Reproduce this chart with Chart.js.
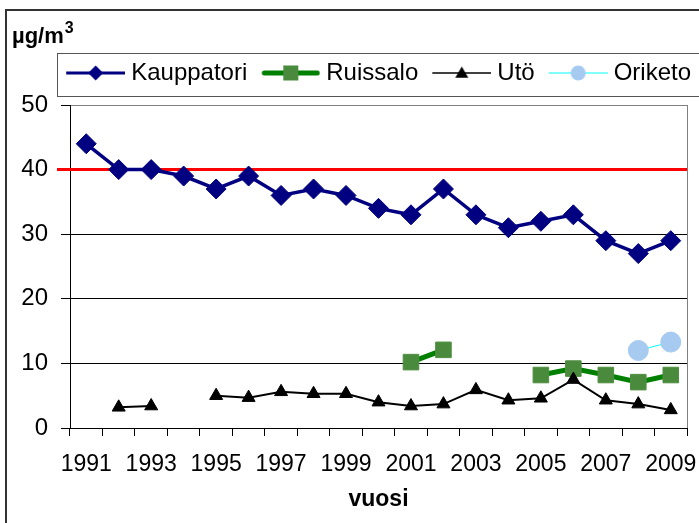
<!DOCTYPE html>
<html>
<head>
<meta charset="utf-8">
<script src="https://cdn.jsdelivr.net/npm/chart.js@4.4.1/dist/chart.umd.min.js"></script>
<style>
  html, body { margin: 0; padding: 0; background: #fff; }
  #wrap { width: 699px; height: 523px; }
</style>
</head>
<body>
<div id="wrap"><canvas id="chart" width="699" height="523"></canvas></div>
<script>
// data
const years = ['1991', '1992', '1993', '1994', '1995', '1996', '1997', '1998', '1999', '2000',
               '2001', '2002', '2003', '2004', '2005', '2006', '2007', '2008', '2009'];
const kauppatori = [44, 40, 40, 39, 37, 39, 36, 37, 36, 34, 33, 37, 33, 31, 32, 33, 29, 27, 29];
const ruissalo = [null, null, null, null, null, null, null, null, null, null,
                  10.2, 12.1, null, null, 8.2, 9.2, 8.2, 7.1, 8.2];
const uto = [null, 3.2, 3.4, null, 5.0, 4.7, 5.6, 5.3, 5.3, 4.0, 3.4, 3.7, 5.9, 4.3, 4.6, 7.5, 4.3, 3.7, 2.8];
const oriketo = [null, null, null, null, null, null, null, null, null, null,
                 null, null, null, null, null, null, null, 12.0, 13.3];
const seriesNames = ['Kauppatori', 'Ruissalo', 'Utö', 'Oriketo'];
const limitValue = 40;   // raja-arvo
const yMin = 0, yMax = 50, yStep = 10;
const unitText = 'µg/m';
const unitSup = '3';
const xTitle = 'vuosi';

const FONT = "'Liberation Sans', Arial, sans-serif";
const LEGEND_BOX = 59;   // legend box width (sample sits over it)
const LEGEND_PAD = 8;

// small marker helpers for the legend samples
function diamond(ctx, x, y, r) {
    ctx.beginPath();
    ctx.moveTo(x, y - r); ctx.lineTo(x + r, y); ctx.lineTo(x, y + r); ctx.lineTo(x - r, y);
    ctx.closePath(); ctx.fill();
}
function square(ctx, x, y, h) {
    ctx.fillRect(x - h, y - h, 2 * h, 2 * h);
}
function triangle(ctx, x, y, r) {
    ctx.beginPath();
    ctx.moveTo(x, y - r);
    ctx.lineTo(x + r * 0.866, y + r * 0.5);
    ctx.lineTo(x - r * 0.866, y + r * 0.5);
    ctx.closePath(); ctx.fill();
}
function circle(ctx, x, y, r) {
    ctx.beginPath(); ctx.arc(x, y, r, 0, Math.PI * 2); ctx.fill();
}

// line + marker sample, 59px long, ending 6px before the legend text
function legendSample(lineColor, lineWidth, cap, markerColor, marker) {
    const c = document.createElement('canvas');
    c.width = LEGEND_BOX + 12; c.height = 28;
    const x0 = c.width - 59, x1 = c.width;
    const ctx = c.getContext('2d');
    ctx.strokeStyle = lineColor;
    ctx.lineWidth = lineWidth;
    ctx.lineCap = cap;
    ctx.beginPath();
    ctx.moveTo(cap === 'round' ? x0 + 3 : x0, 14);
    ctx.lineTo(cap === 'round' ? x1 - 3 : x1, 14);
    ctx.stroke();
    ctx.fillStyle = markerColor;
    marker(ctx, (x0 + x1) / 2, 14);
    return c;
}

const samples = [
    legendSample('#000080', 3, 'butt', '#000080', (ctx, x, y) => diamond(ctx, x, y, 7.5)),
    legendSample('#008000', 5, 'round', '#4a8a3c', (ctx, x, y) => square(ctx, x, y, 7.5)),
    legendSample('#000000', 1.5, 'butt', '#000000', (ctx, x, y) => triangle(ctx, x, y + 1, 7.5)),
    legendSample('#00ffff', 1, 'butt', '#a6caf0', (ctx, x, y) => circle(ctx, x, y, 7.5))
];

// frame, unit label, legend border, plot border and the limit line
const decorations = {
    id: 'decorations',
    beforeDatasetsDraw(chart) {
        const ctx = chart.ctx;
        const area = chart.chartArea;
        const y = chart.scales.y.getPixelForValue(limitValue);
        ctx.save();
        // right side of plot area
        ctx.strokeStyle = '#808080';
        ctx.lineWidth = 1;
        ctx.beginPath();
        ctx.moveTo(Math.round(area.right) + 0.5, area.top);
        ctx.lineTo(Math.round(area.right) + 0.5, area.bottom);
        ctx.stroke();
        // limit line
        ctx.strokeStyle = '#ff0000';
        ctx.lineWidth = 3;
        ctx.beginPath();
        ctx.moveTo(area.left - 13, y);
        ctx.lineTo(area.right, y);
        ctx.stroke();
        ctx.restore();
    },
    afterDraw(chart) {
        const ctx = chart.ctx;
        ctx.save();
        // outer chart border (only top and left are inside the picture)
        ctx.strokeStyle = '#333333';
        ctx.lineWidth = 2;
        ctx.beginPath();
        ctx.moveTo(6, chart.height + 5);
        ctx.lineTo(6, 10);
        ctx.lineTo(chart.width + 5, 10);
        ctx.stroke();
        // legend border
        const lg = chart.legend;
        const first = lg.legendHitBoxes[0];
        const midY = lg.top + LEGEND_PAD + 12;
        const lx = Math.round(first.left + LEGEND_BOX - 62) + 0.5;
        const ly = Math.round(midY - 20) + 0.5;
        const lb = Math.round(midY + 23) + 0.5;
        ctx.strokeStyle = '#555555';
        ctx.lineWidth = 1;
        ctx.strokeRect(lx, ly, chart.width + 10 - lx, lb - ly);
        // unit label
        ctx.fillStyle = '#000';
        ctx.textBaseline = 'alphabetic';
        ctx.font = 'bold 22px ' + FONT;
        ctx.fillText(unitText, 12, 43);
        const w = ctx.measureText(unitText).width;
        ctx.font = 'bold 16px ' + FONT;
        ctx.fillText(unitSup, 12 + w + 1, 33);
        ctx.restore();
    }
};

const ctx = document.getElementById('chart').getContext('2d');
const chart = new Chart(ctx, {
    type: 'line',
    data: {
        labels: years,
        datasets: [{
            label: seriesNames[0],
            data: kauppatori,
            borderColor: '#000080',
            backgroundColor: '#000080',
            borderWidth: 3.5,
            pointStyle: 'rectRot',
            pointRadius: 10,
            pointBorderWidth: 1,
            order: 4
        }, {
            label: seriesNames[1],
            data: ruissalo,
            borderColor: '#008000',
            backgroundColor: '#4a8a3c',
            borderWidth: 5,
            pointStyle: 'rect',
            pointRadius: 11,
            pointBorderColor: '#4f8f40',
            pointBorderWidth: 1,
            order: 3
        }, {
            label: seriesNames[2],
            data: uto,
            borderColor: '#000000',
            backgroundColor: '#000000',
            borderWidth: 2,
            pointStyle: 'triangle',
            pointRadius: 7.5,
            pointBorderWidth: 1,
            order: 2
        }, {
            label: seriesNames[3],
            data: oriketo,
            borderColor: '#00ffff',
            backgroundColor: '#a6caf0',
            borderWidth: 1,
            pointStyle: 'circle',
            pointRadius: 10,
            pointBorderColor: '#a6caf0',
            pointBorderWidth: 1,
            order: 1
        }]
    },
    options: {
        responsive: false,
        animation: false,
        events: [],
        spanGaps: false,
        layout: { padding: { left: 0, top: 53, right: 0, bottom: 0 } },
        elements: { line: { tension: 0 } },
        plugins: {
            tooltip: { enabled: false },
            title: { display: false },
            // empty spacer between the legend and the plot
            subtitle: {
                display: true,
                text: '',
                position: 'top',
                weight: 500,
                padding: 0,
                font: { size: 10, lineHeight: 1 }
            },
            legend: {
                display: true,
                position: 'top',
                align: 'end',
                labels: {
                    usePointStyle: true,
                    pointStyleWidth: LEGEND_BOX,
                    padding: LEGEND_PAD,
                    color: '#000',
                    font: { family: FONT, size: 24 },
                    generateLabels: (chart) => chart.data.datasets.map((ds, i) => ({
                        text: ds.label,
                        datasetIndex: i,
                        pointStyle: samples[i],
                        fontColor: '#000',
                        fillStyle: 'transparent',
                        strokeStyle: 'transparent',
                        lineWidth: 0,
                        hidden: false
                    }))
                }
            }
        },
        scales: {
            x: {
                type: 'category',
                offset: true,
                grid: { offset: true, drawOnChartArea: false, drawTicks: true, tickLength: 8, color: '#000' },
                border: { color: '#000', width: 1 },
                ticks: {
                    autoSkip: false,
                    maxRotation: 0,
                    minRotation: 0,
                    padding: 15,
                    color: '#000',
                    font: { family: FONT, size: 23 },
                    callback: function(value, index) {
                        return index % 2 === 0 ? this.getLabelForValue(value) : '';
                    }
                },
                title: {
                    display: true,
                    text: xTitle,
                    color: '#000',
                    font: { family: FONT, size: 23, weight: 'bold' },
                    padding: { top: 0, bottom: 10 }
                },
                afterFit: (scale) => { scale.height = 95; scale.paddingRight = 11; }
            },
            y: {
                min: yMin,
                max: yMax,
                grid: {
                    color: (c) => (c.tick && c.tick.value === yMax ? '#808080' : '#000'),
                    tickColor: '#000',
                    tickLength: 9,
                    lineWidth: 1
                },
                border: { color: '#000', width: 1 },
                ticks: {
                    stepSize: yStep,
                    padding: 13,
                    color: '#000',
                    font: { family: FONT, size: 24 }
                },
                afterFit: (scale) => { scale.width = 70; }
            }
        }
    },
    plugins: [decorations]
});
</script>
</body>
</html>
